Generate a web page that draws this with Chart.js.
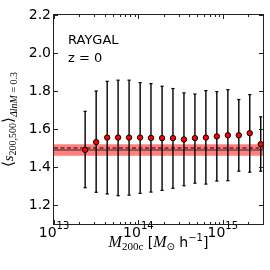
<!DOCTYPE html>
<html>
<head>
<meta charset="utf-8">
<script src="https://cdn.jsdelivr.net/npm/chart.js"></script>
<style>
  html, body { margin: 0; padding: 0; background: #fff; }
  #wrap { width: 270px; height: 270px; }
</style>
</head>
<body>
<div id="wrap"><canvas id="chart" width="270" height="270"></canvas></div>
<script>
// mass bins, M200c in Msun/h (spaced by dlnM = 0.3)
const masses = [2.34e13, 3.16e13, 4.27e13, 5.75e13, 7.76e13, 1.05e14, 1.41e14, 1.91e14, 2.57e14,
  3.47e14, 4.68e14, 6.31e14, 8.51e14, 1.15e15, 1.55e15, 2.09e15, 2.82e15];
// <s_200,500> per bin and the scatter around it
const meanS = [1.490, 1.531, 1.555, 1.555, 1.555, 1.555, 1.553, 1.552, 1.552,
  1.545, 1.552, 1.555, 1.561, 1.567, 1.567, 1.578, 1.520];
const upperS = [1.693, 1.800, 1.851, 1.857, 1.857, 1.844, 1.839, 1.825, 1.813,
  1.790, 1.784, 1.802, 1.797, 1.807, 1.755, 1.781, 1.664];
const lowerS = [1.291, 1.267, 1.258, 1.249, 1.252, 1.261, 1.268, 1.277, 1.288,
  1.301, 1.315, 1.310, 1.326, 1.328, 1.378, 1.373, 1.378];

// overall mean with its band, and the reference value
const bandLow = 1.459;
const bandHigh = 1.520;
const bandMean = 1.489;
const refValue = 1.5;

const xRange = [1e13, 3e15];
const yRange = [1.1, 2.2];
const yTicks = [1.2, 1.4, 1.6, 1.8, 2.0, 2.2];
const xMajorTicks = [1e13, 1e14, 1e15];
const xTickExponents = ["13", "14", "15"];
const xMinorTicks = [2e13, 3e13, 4e13, 5e13, 6e13, 7e13, 8e13, 9e13,
  2e14, 3e14, 4e14, 5e14, 6e14, 7e14, 8e14, 9e14, 2e15, 3e15];

const SANS = "'DejaVu Sans'";
const SERIF = "'Liberation Serif'";

function runsWidth(ctx, runs) {
  let w = 0;
  runs.forEach((r) => {
    ctx.font = r.font;
    w += ctx.measureText(r.text).width;
  });
  return w;
}

// draws a row of text pieces (main text, sub/superscripts) centred on x
function drawRuns(ctx, runs, x, y) {
  let cx = x - runsWidth(ctx, runs) / 2;
  ctx.textAlign = "left";
  ctx.textBaseline = "alphabetic";
  runs.forEach((r) => {
    ctx.font = r.font;
    ctx.fillText(r.text, cx, y + (r.dy || 0));
    cx += ctx.measureText(r.text).width;
  });
}

const xLabelRuns = [
  { text: "M", font: "italic 16px " + SERIF },
  { text: "200c", font: "11px " + SERIF, dy: 3 },
  { text: " [", font: "14px " + SANS },
  { text: "M", font: "italic 16px " + SERIF },
  { text: "\u2299", font: "10px " + SANS, dy: 3 },
  { text: " h", font: "14px " + SANS },
  { text: "\u22121", font: "10px " + SANS, dy: -6 },
  { text: "]", font: "14px " + SANS },
];

const yLabelRuns = [
  { text: "\u27E8", font: "15px " + SANS },
  { text: "s", font: "italic 15px " + SERIF },
  { text: "200,500", font: "10px " + SERIF, dy: 3 },
  { text: "\u27E9", font: "15px " + SANS },
  { text: "\u0394lnM", font: "italic 10px " + SERIF, dy: 4 },
  { text: " = 0.3", font: "10px " + SERIF, dy: 4 },
];

// frame, inward ticks on all sides, tick labels, axis titles, annotations
const framePlugin = {
  id: "frame",
  afterDraw(chart) {
    const ctx = chart.ctx;
    const a = chart.chartArea;
    const xs = chart.scales.x;
    const ys = chart.scales.y;
    ctx.save();
    ctx.strokeStyle = "#222";
    ctx.lineWidth = 1;
    ctx.strokeRect(a.left - 0.5, a.top - 0.5, a.right - a.left + 1, a.bottom - a.top + 1);

    ctx.beginPath();
    xMajorTicks.concat(xMinorTicks).forEach((v) => {
      const len = xMajorTicks.includes(v) ? 4 : 2;
      const px = Math.round(xs.getPixelForValue(v)) + 0.5;
      ctx.moveTo(px, a.bottom);
      ctx.lineTo(px, a.bottom - len);
      ctx.moveTo(px, a.top);
      ctx.lineTo(px, a.top + len);
    });
    yTicks.forEach((v) => {
      const py = Math.round(ys.getPixelForValue(v)) + 0.5;
      ctx.moveTo(a.left, py);
      ctx.lineTo(a.left + 4, py);
      ctx.moveTo(a.right, py);
      ctx.lineTo(a.right - 4, py);
    });
    ctx.stroke();

    ctx.fillStyle = "#000";
    ctx.font = "14px " + SANS;
    ctx.textAlign = "right";
    ctx.textBaseline = "middle";
    yTicks.forEach((v) => {
      ctx.fillText(v.toFixed(1), a.left - 3, ys.getPixelForValue(v));
    });

    xMajorTicks.forEach((v, i) => {
      drawRuns(ctx, [
        { text: "10", font: "14px " + SANS },
        { text: xTickExponents[i], font: "10px " + SANS, dy: -8 },
      ], xs.getPixelForValue(v), 237);
    });

    drawRuns(ctx, xLabelRuns, (a.left + a.right) / 2, 247);

    ctx.save();
    ctx.translate(13, (a.top + a.bottom) / 2);
    ctx.rotate(-Math.PI / 2);
    drawRuns(ctx, yLabelRuns, 0, 0);
    ctx.restore();

    ctx.font = "13px " + SANS;
    ctx.textAlign = "left";
    ctx.textBaseline = "alphabetic";
    ctx.fillText("RAYGAL", 68, 43.5);
    ctx.fillText("z = 0", 68, 61.5);
    ctx.restore();
  },
};

const flat = (y) => [{ x: xRange[0], y: y }, { x: xRange[1], y: y }];

const caps = [];
masses.forEach((m, i) => {
  caps.push({ x: m, y: upperS[i] });
  caps.push({ x: m, y: lowerS[i] });
});

new Chart(document.getElementById("chart"), {
  type: "scatter",
  data: {
    datasets: [
      {
        type: "scatter",
        data: masses.map((m, i) => ({ x: m, y: meanS[i] })),
        pointRadius: 2.7,
        pointBackgroundColor: "#ff0000",
        pointBorderColor: "#000",
        pointBorderWidth: 1,
        order: 0,
      },
      {
        type: "scatter",
        data: caps,
        pointStyle: "line",
        pointRadius: 1.6,
        pointBorderColor: "#000",
        pointBorderWidth: 1.2,
        order: 1,
      },
      {
        type: "bar",
        data: masses.map((m, i) => ({ x: m, y: [lowerS[i], upperS[i]] })),
        backgroundColor: "#000",
        barThickness: 1.4,
        inflateAmount: 0,
        order: 2,
      },
      {
        type: "line",
        data: flat(refValue),
        borderColor: "#000",
        borderWidth: 1,
        borderDash: [4, 2.5],
        pointRadius: 0,
        order: 3,
      },
      {
        type: "line",
        data: flat(bandMean),
        borderColor: "rgba(0,0,0,0.5)",
        borderWidth: 1.5,
        pointRadius: 0,
        order: 4,
      },
      {
        type: "line",
        data: flat(bandHigh),
        borderWidth: 0,
        borderColor: "rgba(0,0,0,0)",
        backgroundColor: "rgba(255,0,0,0.5)",
        fill: { value: bandLow },
        pointRadius: 0,
        order: 5,
      },
    ],
  },
  options: {
    responsive: false,
    animation: false,
    layout: { padding: { top: 15, right: 7, left: 0, bottom: 0 } },
    plugins: {
      legend: { display: false },
      tooltip: { enabled: false },
    },
    scales: {
      x: {
        type: "logarithmic",
        min: xRange[0],
        max: xRange[1],
        offset: false,
        ticks: { display: false },
        grid: { display: false, offset: false },
        border: { display: false },
        afterFit: (s) => { s.height = 46; },
      },
      y: {
        type: "linear",
        min: yRange[0],
        max: yRange[1],
        beginAtZero: false,
        ticks: { display: false },
        grid: { display: false },
        border: { display: false },
        afterFit: (s) => { s.width = 54; },
      },
    },
  },
  plugins: [framePlugin],
});
</script>
</body>
</html>
